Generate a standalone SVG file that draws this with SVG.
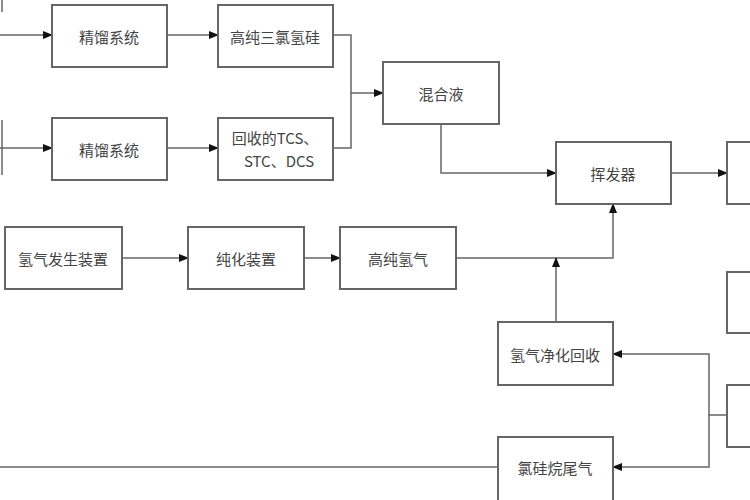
<svg xmlns="http://www.w3.org/2000/svg" width="750" height="500" viewBox="0 0 750 500">
<defs><marker id="a" markerWidth="10" markerHeight="8" refX="9" refY="4" orient="auto" markerUnits="userSpaceOnUse"><path d="M0,0L10,4L0,8z" fill="#111"/></marker></defs>
<style>rect{fill:#fff;stroke:#666;stroke-width:2}text{font-family:"Noto Sans CJK SC","Liberation Serif",serif;font-size:15px;fill:#444;text-anchor:middle;dominant-baseline:central}.c{fill:none;stroke:#666;stroke-width:1.5}.m{marker-end:url(#a)}</style>
<rect x="0" y="0" width="750" height="500" style="stroke:none"/>
<g id="connectors">
<path class="c" d="M2,0V12M2,120V175"/>
<path class="c m" d="M0,35H52"/><path class="c m" d="M167,35H218"/>
<path class="c m" d="M0,148H52"/><path class="c m" d="M167,148H218"/>
<path class="c" d="M333,35H351V148H333"/><path class="c m" d="M351,93H383"/>
<path class="c m" d="M441,124V173H556"/><path class="c m" d="M671,173H727"/>
<path class="c m" d="M122,258H188"/><path class="c m" d="M304,258H340"/>
<path class="c m" d="M456,258H613V204"/><path class="c m" d="M556,322V258"/>
<path class="c m" d="M727,415H709V354H613"/><path class="c m" d="M709,415V467H613"/>
<path class="c" d="M498,467H0"/>
</g>
<g id="n1"><rect x="52" y="5" width="115" height="62"/><text x="109" y="36">精馏系统</text></g>
<g id="n2"><rect x="218" y="5" width="115" height="62"/><text x="275" y="36">高纯三氯氢硅</text></g>
<g id="n3"><rect x="52" y="118" width="115" height="62"/><text x="109" y="149">精馏系统</text></g>
<g id="n4"><rect x="218" y="118" width="115" height="62"/><text x="275" y="137">回收的TCS、</text><text x="279" y="160">STC、DCS</text></g>
<g id="n5"><rect x="383" y="62" width="116" height="62"/><text x="441" y="93">混合液</text></g>
<g id="n6"><rect x="556" y="142" width="115" height="62"/><text x="613" y="173">挥发器</text></g>
<g id="n7"><rect x="727" y="142" width="30" height="62"/></g>
<g id="n8"><rect x="5" y="227" width="117" height="62"/><text x="63" y="258">氢气发生装置</text></g>
<g id="n9"><rect x="188" y="227" width="116" height="62"/><text x="246" y="258">纯化装置</text></g>
<g id="n10"><rect x="340" y="227" width="116" height="62"/><text x="398" y="258">高纯氢气</text></g>
<g id="n11"><rect x="727" y="272" width="30" height="61"/></g>
<g id="n12"><rect x="498" y="322" width="115" height="63"/><text x="555" y="354">氢气净化回收</text></g>
<g id="n13"><rect x="727" y="385" width="30" height="62"/></g>
<g id="n14"><rect x="498" y="437" width="115" height="70"/><text x="555" y="467">氯硅烷尾气</text></g>
</svg>
